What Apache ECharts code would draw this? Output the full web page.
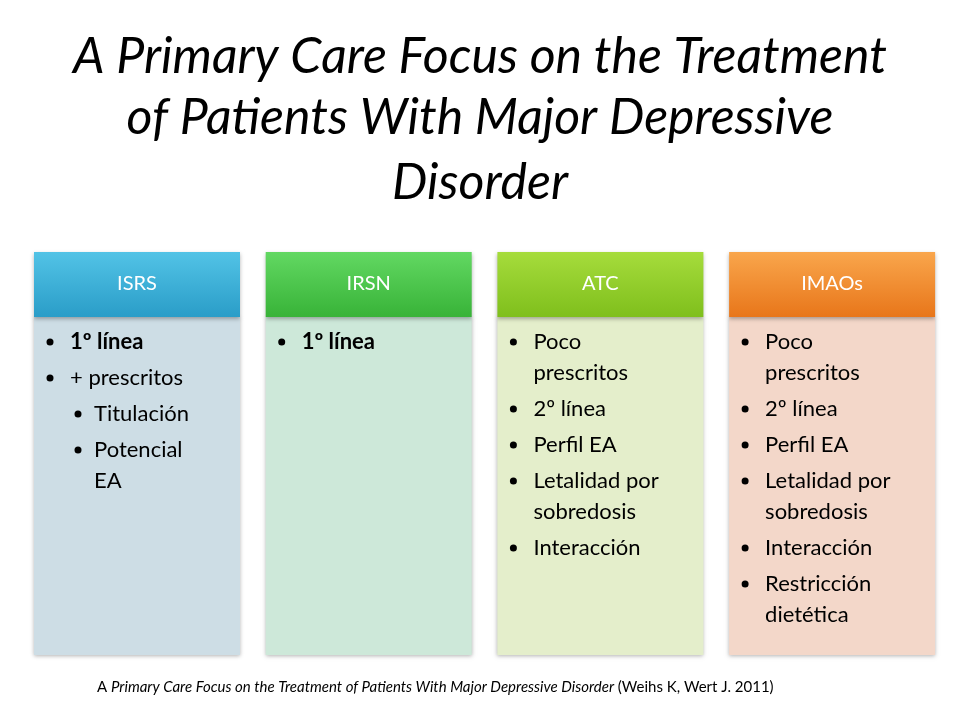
<!DOCTYPE html>
<html><head><meta charset="utf-8">
<script src="https://cdn.jsdelivr.net/npm/echarts@6/dist/echarts.min.js"></script>
<style>html,body{margin:0;background:#fff}#c{width:960px;height:720px}</style>
</head><body><div id="c"></div>
<script>
const titleLines = ['A Primary Care Focus on the Treatment', 'of Patients With Major Depressive', 'Disorder'];
const categories = ['ISRS', 'IRSN', 'ATC', 'IMAOs'];
// items: [text (\n for wrap), level, bold]
const items = [
  [['1º línea',1,true],['+ prescritos',1,false],['Titulación',2,false],['Potencial\nEA',2,false]],
  [['1º línea',1,true]],
  [['Poco\nprescritos',1,false],['2º línea',1,false],['Perfil EA',1,false],['Letalidad por\nsobredosis',1,false],['Interacción',1,false]],
  [['Poco\nprescritos',1,false],['2º línea',1,false],['Perfil EA',1,false],['Letalidad por\nsobredosis',1,false],['Interacción',1,false],['Restricción\ndietética',1,false]]
];
const footerItalic = 'Primary Care Focus on the Treatment of Patients With Major Depressive Disorder';
const footerRest = ' (Weihs K, Wert J. 2011)';

const headTop = ['#52c3e6','#62d862','#a6dc3c','#f9a64c'];
const headBot = ['#2a9dc8','#38b338','#7fbf1c','#e8761a'];
const bodyCol = ['#cddde5','#cde8d9','#e4eecb','#f3d7c9'];
const FONT = 'Lato, "Open Sans", sans-serif';

const g = [];
titleLines.forEach((t,i)=>g.push({type:'text',x:480,y:[57,118,183][i],style:{text:t,font:'italic 50px '+FONT,fill:'#000',align:'center',verticalAlign:'middle'}}));
categories.forEach((c,i)=>{
  const x = 34 + i*231.7, w = 206;
  g.push({type:'rect',shape:{x:x,y:317,width:w,height:338},style:{fill:bodyCol[i],shadowBlur:4,shadowColor:'rgba(0,0,0,0.3)',shadowOffsetY:1}});
  g.push({type:'rect',shape:{x:x,y:252,width:w,height:65},style:{fill:new echarts.graphic.LinearGradient(0,0,0,1,[{offset:0,color:headTop[i]},{offset:1,color:headBot[i]}]),shadowBlur:4,shadowColor:'rgba(0,0,0,0.3)',shadowOffsetY:2}});
  g.push({type:'text',x:x+w/2,y:284,style:{text:c,font:'20px '+FONT,fill:'#fff',align:'center',verticalAlign:'middle'}});
  let y = 342;
  items[i].forEach(([t,l,b])=>{
    const bx = x + (l===1?16:44), tx = x + (l===1?36:60);
    g.push({type:'circle',shape:{cx:bx,cy:y,r:3.5},style:{fill:'#000'}});
    const lines = t.split('\n');
    lines.forEach((ln,k)=>g.push({type:'text',x:tx,y:y+k*31,style:{text:ln,font:(b?'bold ':'')+'22px '+FONT,fill:'#000',verticalAlign:'middle'}}));
    y += 36 + (lines.length-1)*31;
  });
});
g.push({type:'text',x:97,y:687,style:{text:'A {i|'+footerItalic+'}'+footerRest,font:'15px '+FONT,fill:'#000',verticalAlign:'middle',rich:{i:{fontStyle:'italic',fontSize:15,fontFamily:FONT}}}});

const chart = echarts.init(document.getElementById('c'));
chart.setOption({backgroundColor:'#fff',graphic:g});
</script></body></html>
